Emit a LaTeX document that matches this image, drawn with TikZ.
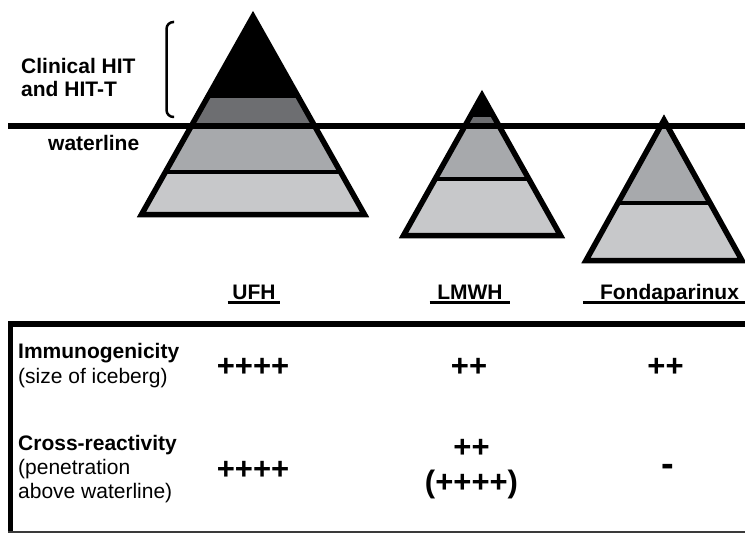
\documentclass[tikz,border=0pt]{standalone}
\usepackage{fontspec}
\setmainfont{Liberation Sans}
\definecolor{bergdark}{HTML}{6D6E71}
\definecolor{bergmid}{HTML}{A7A9AC}
\definecolor{berglight}{HTML}{C7C8CA}
\definecolor{tablerule}{HTML}{3A3A3A}

\begin{document}
\begin{tikzpicture}[
  x=1pt, y=-1pt,
  berg outline/.style={
    draw=black,
    line width=5.5pt,
    line join=miter
  },
  band line/.style={draw=black, line width=4pt},
  note/.style={
    font=\fontsize{21}{24}\selectfont\bfseries,
    inner sep=0pt,
    anchor=base west,
    align=left
  },
  row label/.style={
    font=\fontsize{21}{25}\selectfont,
    inner sep=0pt,
    anchor=base west,
    align=left
  },
  drug head/.style={
    font=\fontsize{21}{24}\selectfont\bfseries,
    inner ysep=0pt,
    anchor=base
  },
  head rule/.style={draw=black, line width=3pt},
  grade/.style={
    font=\fontsize{31}{35}\selectfont\bfseries,
    inner sep=0pt,
    anchor=base,
    align=center
  }
]
\useasboundingbox (0,0) rectangle (745,535);

% icebergs
\coordinate (ufh top) at (253,16.5);
\coordinate (ufh left) at (141.5,214.5);
\coordinate (ufh right) at (364.5,214.5);
\coordinate (lmwh top) at (482,95.5);
\coordinate (lmwh left) at (403.5,235.5);
\coordinate (lmwh right) at (560.5,235.5);
\coordinate (fonda top) at (664,120);
\coordinate (fonda left) at (586,260.5);
\coordinate (fonda right) at (742,260.5);

\begin{scope}
  \clip (ufh top) -- (ufh left) -- (ufh right) -- cycle;
  \fill[black] (100,0) rectangle (400,98);
  \fill[bergdark] (100,98) rectangle (400,125.5);
  \fill[bergmid] (100,125.5) rectangle (400,172);
  \fill[berglight] (100,172) rectangle (400,230);
  \draw[band line] (100,172) -- (400,172);
\end{scope}
\draw[berg outline] (ufh top) -- (ufh left) -- (ufh right) -- cycle;

\begin{scope}
  \clip (lmwh top) -- (lmwh left) -- (lmwh right) -- cycle;
  \fill[black] (390,80) rectangle (580,117);
  \fill[bergdark] (390,117) rectangle (580,125.5);
  \fill[bergmid] (390,125.5) rectangle (580,179);
  \fill[berglight] (390,179) rectangle (580,250);
  \draw[band line] (390,179) -- (580,179);
\end{scope}
\draw[berg outline] (lmwh top) -- (lmwh left) -- (lmwh right) -- cycle;

\begin{scope}
  \clip (fonda top) -- (fonda left) -- (fonda right) -- cycle;
  \fill[bergmid] (570,100) rectangle (750,203);
  \fill[berglight] (570,203) rectangle (750,270);
  \draw[band line] (570,203) -- (750,203);
\end{scope}
\draw[berg outline] (fonda top) -- (fonda left) -- (fonda right) -- cycle;

% waterline and bracket
\draw[line width=6pt] (8,125.5) -- (745,125.5);
\draw[line width=2.5pt, rounded corners=7pt] (174,22) -- (166.5,22) -- (166.5,117) -- (174,117);

\node[note] (clinical) at (21,97) {Clinical HIT\\and HIT-T};
\node[note] (waterline) at (48,150) {waterline};

% drug headings
\node[drug head, inner xsep=4.5pt] (ufh) at (254,299) {UFH};
\node[drug head, inner xsep=7.5pt] (lmwh) at (470,299) {LMWH};
\node[drug head, inner xsep=17pt] (fonda) at (669.5,299) {Fondaparinux};
\draw[head rule] ([yshift=-3pt]ufh.base west) -- ([yshift=-3pt]ufh.base east);
\draw[head rule] ([yshift=-3pt]lmwh.base west) -- ([yshift=-3pt]lmwh.base east);
\draw[head rule] ([yshift=-3pt]fonda.base west) -- ([yshift=-3pt]fonda.base east);

% table frame
\draw[line width=6pt] (8,324) -- (745,324);
\draw[line width=5pt] (10.8,321) -- (10.8,533);
\draw[tablerule, line width=1.5pt] (8,532.2) -- (745,532.2);

\node[row label] (immuno) at (18,383) {\textbf{Immunogenicity}\\(size of iceberg)};
\node[row label, font=\fontsize{21}{24}\selectfont] (cross) at (18,498) {\textbf{Cross-reactivity}\\(penetration\\above waterline)};

\node[grade] (ufh immuno) at (253,376.5) {++++};
\node[grade] (lmwh immuno) at (469,376.5) {++};
\node[grade] (fonda immuno) at (665.5,376.5) {++};
\node[grade] (ufh cross) at (253,479.5) {++++};
\node[grade] (lmwh cross) at (471.5,492.5) {++\\(++++)};
\node[grade, font=\fontsize{38}{40}\selectfont\bfseries] (fonda cross) at (668,476) {-};

\end{tikzpicture}
\end{document}
